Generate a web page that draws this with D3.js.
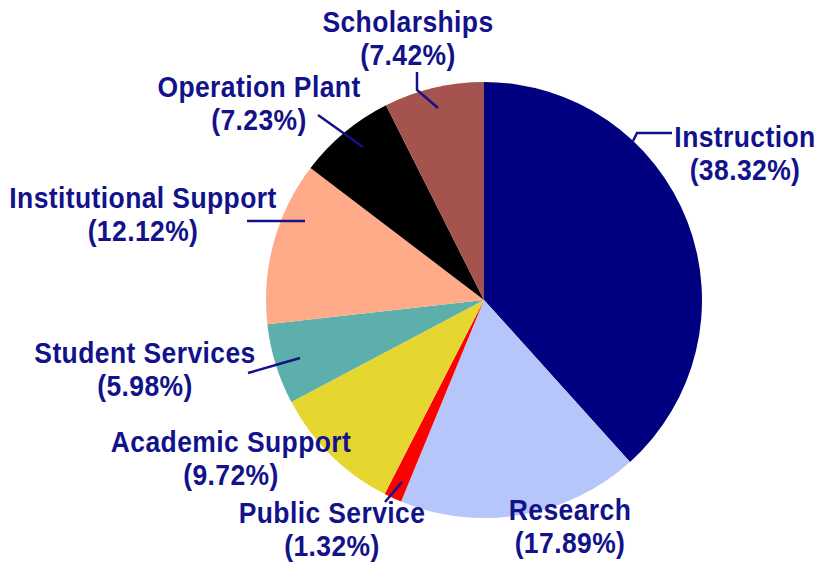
<!DOCTYPE html>
<html>
<head>
<meta charset="utf-8">
<script src="https://cdn.jsdelivr.net/npm/d3@7"></script>
<style>
  html, body { margin: 0; padding: 0; background: #fff; }
  svg { display: block; }
</style>
</head>
<body>
<svg id="chart" width="819" height="564"></svg>
<script>
// data, clockwise from 12 o'clock
var categories = ['Instruction', 'Research', 'Public Service', 'Academic Support',
  'Student Services', 'Institutional Support', 'Operation Plant', 'Scholarships'];
var percents = [38.32, 17.89, 1.32, 9.72, 5.98, 12.12, 7.23, 7.42];
var colors = ['#000080', '#b6c6fb', '#ff0000', '#e6d630', '#5cafab', '#ffab8a', '#000000', '#a5534f'];

// label placement: text centre x, first baseline y
var labelAt = [[745, 147], [570, 520], [332, 523], [231, 452],
  [145, 363], [143, 208], [259, 97], [408, 32]];
// leader lines (annotation only)
var leaders = [
  [[672, 133], [637, 133], [633, 141]],
  null,
  [[385, 502], [402, 482]],
  null,
  [[248, 373], [300, 358]],
  [[247, 221], [305, 221]],
  [[318, 115], [363, 147]],
  [[417, 72], [417, 90], [438, 108]]
];

var svg = d3.select('#chart'),
  cx = 484, cy = 300, R = 218,
  ink = '#12128a';

var pie = d3.pie().sort(null).value(function(d) { return d; });
var arc = d3.arc().innerRadius(0).outerRadius(R);

var g = svg.append('g').attr('transform', 'translate(' + cx + ',' + cy + ')');
g.selectAll('path')
  .data(pie(percents))
  .enter().append('path')
  .attr('d', arc)
  .attr('fill', function(d, i) { return colors[i]; });

var line = d3.line();
svg.selectAll('path.leader')
  .data(leaders.filter(function(d) { return d; }))
  .enter().append('path')
  .attr('class', 'leader')
  .attr('d', line)
  .attr('fill', 'none')
  .attr('stroke', ink)
  .attr('stroke-width', 2.5);

var labels = svg.selectAll('g.label')
  .data(categories)
  .enter().append('g')
  .attr('class', 'label')
  .attr('transform', function(d, i) {
    return 'translate(' + labelAt[i][0] + ',' + labelAt[i][1] + ') scale(1,1.12)';
  })
  .attr('font-family', '"Liberation Sans", Arial, sans-serif')
  .attr('font-weight', 'bold')
  .attr('font-size', 26.5)
  .attr('letter-spacing', 0.4)
  .attr('fill', ink)
  .attr('text-anchor', 'middle');

labels.append('text').text(function(d) { return d; });
labels.append('text')
  .attr('y', 29.5)
  .text(function(d, i) { return '(' + percents[i].toFixed(2) + '%)'; });
</script>
</body>
</html>
